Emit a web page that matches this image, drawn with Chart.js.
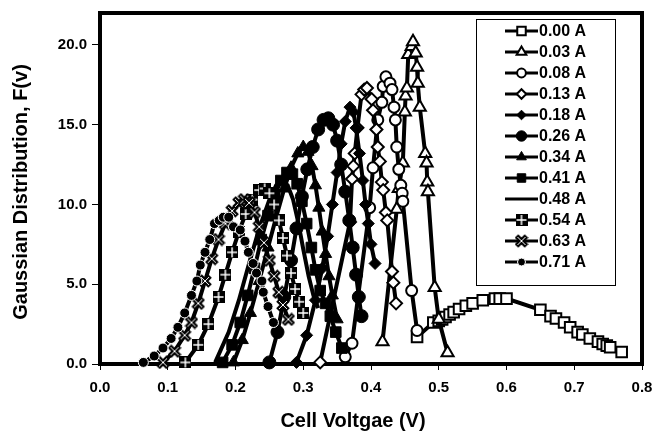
<!DOCTYPE html>
<html>
<head>
<meta charset="utf-8">
<script src="https://cdn.jsdelivr.net/npm/chart.js@4.4.0/dist/chart.umd.min.js"></script>
<style>
html, body { margin: 0; padding: 0; background: #fff; }
canvas { display: block; }
</style>
</head>
<body>
<canvas id="myChart" width="655" height="433"></canvas>
<script>
// current labels, top to bottom as in the legend
const seriesNames = ['0.00 A', '0.03 A', '0.08 A', '0.13 A', '0.18 A', '0.26 A',
                     '0.34 A', '0.41 A', '0.48 A', '0.54 A', '0.63 A', '0.71 A'];
const xTicks = [0, 0.1, 0.2, 0.3, 0.4, 0.5, 0.6, 0.7, 0.8];
const yTicks = [0, 5, 10, 15, 20];
const xTitle = 'Cell Voltgae (V)';
const yTitle = 'Gaussian Distribution, F(v)';

// [cell voltage, F(v)]
const s000 = [[0.468,1.7],[0.492,2.6],[0.5,2.7],[0.505,2.8],[0.51,2.95],[0.516,3.1],[0.522,3.25],[0.53,3.45],
  [0.54,3.65],[0.55,3.8],[0.565,4.0],[0.583,4.1],[0.59,4.1],[0.6,4.1],[0.65,3.4],[0.665,3.0],[0.673,2.85],
  [0.685,2.6],[0.694,2.3],[0.705,2.0],[0.712,1.85],[0.723,1.6],[0.735,1.4],[0.742,1.25],[0.748,1.15],
  [0.753,1.05],[0.77,0.75]];
const s003 = [[0.417,1.4],[0.438,9.7],[0.441,11.0],[0.447,12.6],[0.45,15.8],[0.451,16.8],[0.453,17.3],
  [0.455,19.4],[0.46,19.9],[0.462,20.2],[0.466,19.5],[0.468,18.6],[0.469,17.6],[0.472,16.1],[0.48,13.2],
  [0.482,12.6],[0.483,11.4],[0.484,10.8],[0.494,4.8],[0.5,2.8],[0.513,0.7]];
const s008 = [[0.362,0.45],[0.372,1.3],[0.398,9.8],[0.403,12.3],[0.41,15.3],[0.416,16.4],[0.418,17.4],
  [0.422,18.0],[0.428,17.6],[0.431,17.2],[0.434,16.1],[0.436,15.3],[0.438,13.6],[0.441,12.2],[0.444,11.2],
  [0.446,10.7],[0.447,10.2],[0.46,4.6],[0.468,2.1]];
const s013 = [[0.325,0.1],[0.369,8.9],[0.372,11.6],[0.374,12.4],[0.376,13.2],[0.38,14.8],[0.386,16.9],
  [0.39,17.2],[0.394,17.3],[0.401,16.6],[0.403,15.9],[0.408,14.7],[0.41,13.6],[0.413,12.7],[0.416,11.4],
  [0.418,10.9],[0.422,9.5],[0.424,9.0],[0.431,5.8],[0.433,5.1],[0.437,3.8]];
const s018 = [[0.29,0.1],[0.305,1.8],[0.318,4.0],[0.328,6.0],[0.336,8.0],[0.343,10.0],[0.35,12.0],
  [0.356,13.8],[0.362,15.2],[0.369,16.1],[0.374,15.8],[0.378,14.8],[0.383,13.2],[0.388,11.5],[0.392,10.0],
  [0.396,8.8],[0.4,7.5],[0.406,6.3]];
const s026 = [[0.25,0.1],[0.262,2.0],[0.272,4.2],[0.282,6.5],[0.29,8.5],[0.298,10.5],[0.306,12.2],
  [0.314,13.6],[0.322,14.7],[0.33,15.3],[0.337,15.4],[0.344,15.0],[0.35,14.0],[0.356,12.5],[0.362,10.8],
  [0.368,9.0],[0.373,7.3],[0.378,5.6],[0.382,4.2],[0.386,3.0]];
const s034 = [[0.197,0.1],[0.21,1.5],[0.222,3.2],[0.235,5.2],[0.248,7.3],[0.26,9.2],[0.272,11.0],
  [0.282,12.3],[0.292,13.2],[0.3,13.6],[0.307,13.3],[0.313,12.4],[0.318,11.2],[0.323,9.8],[0.328,8.3],
  [0.333,6.9],[0.338,5.5],[0.343,4.3],[0.35,2.8]];
const s041 = [[0.181,0.1],[0.195,1.2],[0.207,2.6],[0.218,4.3],[0.228,6.0],[0.238,7.8],[0.248,9.3],
  [0.258,10.6],[0.267,11.5],[0.276,12.0],[0.284,11.9],[0.291,11.3],[0.298,10.2],[0.305,8.8],[0.312,7.3],
  [0.318,5.9],[0.325,4.6],[0.333,3.8],[0.34,3.0],[0.348,2.0],[0.357,1.0]];
const s048 = [[0.17,0.1],[0.19,2.0],[0.205,4.0],[0.22,6.3],[0.235,8.5],[0.25,10.3],[0.26,11.2],
  [0.268,11.5],[0.277,11.2],[0.285,10.3],[0.293,8.8],[0.3,7.2],[0.308,5.5],[0.315,4.3],[0.322,3.5]];
const s054 = [[0.126,0.1],[0.145,1.2],[0.16,2.5],[0.175,4.2],[0.185,5.6],[0.195,7.0],[0.205,8.3],
  [0.215,9.4],[0.225,10.3],[0.235,10.9],[0.243,11.0],[0.25,10.7],[0.257,10.0],[0.264,9.0],[0.27,7.9],
  [0.276,6.8],[0.282,5.7],[0.288,4.7],[0.294,3.9],[0.3,3.2]];
const s063 = [[0.093,0.1],[0.11,0.8],[0.125,1.8],[0.135,2.6],[0.145,3.8],[0.155,5.2],[0.165,6.6],
  [0.175,7.8],[0.185,8.8],[0.195,9.6],[0.205,10.1],[0.213,10.3],[0.22,10.1],[0.228,9.5],[0.235,8.6],
  [0.242,7.6],[0.25,6.5],[0.257,5.5],[0.264,4.5],[0.27,3.7],[0.278,2.8]];
const s071 = [[0.064,0.1],[0.08,0.5],[0.093,1.0],[0.105,1.6],[0.115,2.3],[0.125,3.2],[0.135,4.3],
  [0.143,5.2],[0.148,6.2],[0.155,7.0],[0.162,7.8],[0.169,8.8],[0.176,9.0],[0.182,9.2],[0.19,9.2],
  [0.197,8.6],[0.207,8.4],[0.214,7.7],[0.219,7.0],[0.226,6.3],[0.231,5.7],[0.239,5.2],[0.241,4.5],
  [0.248,3.6],[0.256,2.6]];
const allSeries = [s000, s003, s008, s013, s018, s026, s034, s041, s048, s054, s063, s071];

const fontFam = '"Liberation Sans", Arial, sans-serif';
Chart.defaults.font.family = fontFam;
Chart.defaults.color = '#000';

// black square with a white plus through it
function plusSquare() {
    const c = document.createElement('canvas');
    c.width = 12; c.height = 12;
    const g = c.getContext('2d');
    g.fillStyle = '#000';
    g.fillRect(0, 0, 12, 12);
    g.fillStyle = '#fff';
    g.fillRect(5.25, 1, 1.5, 10);
    g.fillRect(1, 5.25, 10, 1.5);
    return c;
}
// X with a thin white core
function xMark() {
    const c = document.createElement('canvas');
    c.width = 14; c.height = 14;
    const g = c.getContext('2d');
    g.strokeStyle = '#000';
    g.lineWidth = 5;
    g.beginPath();
    g.moveTo(2, 2); g.lineTo(12, 12);
    g.moveTo(12, 2); g.lineTo(2, 12);
    g.stroke();
    g.strokeStyle = '#fff';
    g.lineWidth = 1;
    g.beginPath();
    g.moveTo(3, 3); g.lineTo(11, 11);
    g.moveTo(11, 3); g.lineTo(3, 11);
    g.stroke();
    return c;
}

const markers = [
    { style: 'rect', r: 7.5, bg: '#fff', bc: '#000', bw: 2 },
    { style: 'triangle', r: 7, bg: '#fff', bc: '#000', bw: 2 },
    { style: 'circle', r: 5.5, bg: '#fff', bc: '#000', bw: 2 },
    { style: 'rectRot', r: 6, bg: '#fff', bc: '#000', bw: 2 },
    { style: 'rectRot', r: 6, bg: '#000', bc: '#000', bw: 1 },
    { style: 'circle', r: 6.5, bg: '#000', bc: '#000', bw: 1 },
    { style: 'triangle', r: 7, bg: '#000', bc: '#000', bw: 1 },
    { style: 'rect', r: 7.5, bg: '#000', bc: '#000', bw: 1 },
    { style: 'circle', r: 0, bg: '#000', bc: '#000', bw: 0 },
    { style: plusSquare(), r: 5, bg: '#000', bc: '#000', bw: 0 },
    { style: xMark(), r: 5, bg: '#000', bc: '#000', bw: 0 },
    { style: 'circle', r: 5, bg: '#000', bc: '#fff', bw: 1 }
];

const datasets = allSeries.map((pts, i) => ({
    label: seriesNames[i],
    data: pts.map(p => ({ x: p[0], y: p[1] })),
    showLine: true,
    borderColor: '#000',
    borderWidth: 4,
    tension: 0,
    pointStyle: markers[i].style,
    pointRadius: markers[i].r,
    pointBackgroundColor: markers[i].bg,
    pointBorderColor: markers[i].bc,
    pointBorderWidth: markers[i].bw,
    clip: false,
    order: allSeries.length - 1 - i
}));

const framePlugin = {
    id: 'frame',
    beforeDatasetsDraw(chart) {
        const a = chart.chartArea;
        const ctx = chart.ctx;
        ctx.save();
        ctx.strokeStyle = '#000';
        ctx.lineWidth = 4;
        ctx.strokeRect(a.left, a.top, a.right - a.left, a.bottom - a.top);
        ctx.restore();
    },
    afterDraw(chart) {
        const a = chart.chartArea;
        const ctx = chart.ctx;
        ctx.save();
        // legend box inside the plot
        const lx = a.right - 166, ly = a.top + 6, lw = 139, rowH = 21;
        const lh = rowH * seriesNames.length + 14;
        ctx.fillStyle = '#fff';
        ctx.fillRect(lx, ly, lw, lh);
        ctx.strokeStyle = '#000';
        ctx.lineWidth = 1;
        ctx.strokeRect(lx + 0.5, ly + 0.5, lw, lh);
        chart.data.datasets.forEach((ds, i) => {
            const y = ly + 12 + i * rowH;
            ctx.strokeStyle = '#000';
            ctx.lineWidth = 3;
            ctx.beginPath();
            ctx.moveTo(lx + 29, y);
            ctx.lineTo(lx + 62, y);
            ctx.stroke();
            ctx.fillStyle = ds.pointBackgroundColor;
            ctx.strokeStyle = ds.pointBorderColor;
            ctx.lineWidth = ds.pointBorderWidth;
            Chart.helpers.drawPoint(ctx, {
                pointStyle: ds.pointStyle,
                radius: ds.pointRadius * 0.8,
                borderWidth: ds.pointBorderWidth,
                rotation: 0
            }, lx + 45.5, y);
            ctx.fillStyle = '#000';
            ctx.font = 'bold 16px ' + fontFam;
            ctx.textAlign = 'left';
            ctx.textBaseline = 'middle';
            ctx.fillText(ds.label, lx + 63, y + 1);
        });
        // axis titles
        ctx.fillStyle = '#000';
        ctx.font = 'bold 20px ' + fontFam;
        ctx.textAlign = 'center';
        ctx.textBaseline = 'middle';
        ctx.fillText(xTitle, a.left + 253, 421);
        ctx.translate(21, a.top + 179);
        ctx.rotate(-Math.PI / 2);
        ctx.fillText(yTitle, 0, 0);
        ctx.restore();
    }
};

const ctx = document.getElementById('myChart').getContext('2d');
const chart = new Chart(ctx, {
    type: 'scatter',
    data: { datasets: datasets },
    options: {
        responsive: false,
        animation: false,
        devicePixelRatio: 1,
        events: [],
        layout: { padding: { left: 0, right: 13, top: 13, bottom: 0 } },
        plugins: {
            legend: { display: false },
            tooltip: { enabled: false }
        },
        scales: {
            x: {
                type: 'linear',
                min: 0,
                max: 0.8,
                afterBuildTicks: (s) => { s.ticks = xTicks.map(v => ({ value: v })); },
                afterFit: (s) => { s.height = 69; s.paddingLeft = 0; s.paddingRight = 0; },
                ticks: {
                    padding: 9,
                    maxRotation: 0,
                    font: { size: 15, weight: 'bold' },
                    color: '#000',
                    callback: (v) => v.toFixed(1)
                },
                grid: { drawOnChartArea: false, drawTicks: true, tickLength: 6, color: '#000', lineWidth: 1 },
                border: { display: false }
            },
            y: {
                type: 'linear',
                min: 0,
                max: 22,
                afterBuildTicks: (s) => { s.ticks = yTicks.map(v => ({ value: v })); },
                afterFit: (s) => { s.width = 100; s.paddingTop = 0; s.paddingBottom = 0; },
                ticks: {
                    padding: 5,
                    font: { size: 15, weight: 'bold' },
                    color: '#000',
                    callback: (v) => v.toFixed(1)
                },
                grid: { drawOnChartArea: false, drawTicks: true, tickLength: 8, color: '#000', lineWidth: 1 },
                border: { display: false }
            }
        }
    },
    plugins: [framePlugin]
});
</script>
</body>
</html>
